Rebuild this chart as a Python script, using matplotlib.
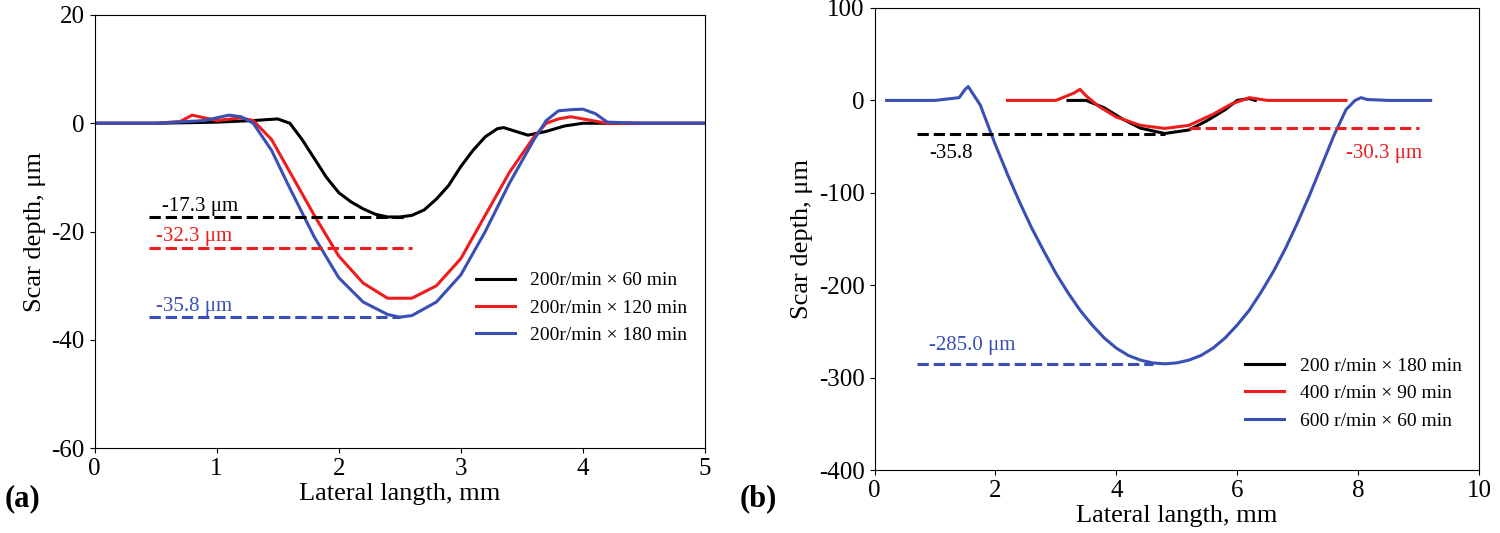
import matplotlib.pyplot as plt

plt.rcParams['font.family'] = 'Liberation Serif'
plt.rcParams['axes.unicode_minus'] = False

# panel (a)
xa_black = [0, 0.5, 1.0, 1.3, 1.5, 1.6, 1.7, 1.8, 1.9, 2.0, 2.1, 2.2, 2.3, 2.4, 2.5, 2.6, 2.7, 2.8, 2.9, 3.0, 3.1, 3.2, 3.3, 3.35, 3.45, 3.55, 3.7, 3.85, 4.0, 4.5, 5.0]
ya_black = [0, 0, 0.2, 0.5, 0.8, 0.0, -3.0, -6.5, -10.0, -12.8, -14.5, -15.8, -16.8, -17.3, -17.3, -17.0, -16.0, -14.0, -11.5, -8.0, -5.0, -2.5, -1.0, -0.8, -1.5, -2.2, -1.5, -0.5, 0, 0, 0]
xa_red = [0, 0.5, 0.7, 0.8, 0.9, 1.0, 1.2, 1.3, 1.45, 1.6, 1.8, 2.0, 2.2, 2.4, 2.6, 2.8, 3.0, 3.2, 3.4, 3.6, 3.7, 3.8, 3.9, 4.0, 4.2, 4.5, 5.0]
ya_red = [0, 0, 0.3, 1.5, 1.0, 0.5, 1.0, 0.5, -3.0, -9.0, -17.0, -24.5, -29.5, -32.3, -32.3, -30.0, -25.0, -17.0, -9.0, -2.5, 0.0, 0.8, 1.2, 0.8, 0.0, 0, 0]
xa_blue = [0, 0.5, 0.9, 1.1, 1.2, 1.3, 1.45, 1.6, 1.8, 2.0, 2.2, 2.4, 2.5, 2.6, 2.8, 3.0, 3.2, 3.4, 3.6, 3.7, 3.8, 3.9, 4.0, 4.1, 4.2, 4.5, 5.0]
ya_blue = [0, 0, 0.5, 1.5, 1.2, 0.0, -5.0, -12.0, -21.0, -28.5, -33.0, -35.3, -35.8, -35.5, -33.0, -28.0, -20.0, -11.0, -3.0, 0.5, 2.3, 2.5, 2.6, 1.8, 0.2, 0, 0]
labels_a = ['200r/min × 60 min', '200r/min × 120 min', '200r/min × 180 min']

# panel (b)
xb_black = [3.2, 3.5, 3.8, 4.1, 4.4, 4.8, 5.2, 5.5, 5.8, 6.0, 6.2, 6.3]
yb_black = [0, 0, -8, -20, -30, -35.8, -32, -22, -10, 0, 2, 0]
xb_red = [2.2, 3.0, 3.3, 3.4, 3.5, 3.7, 4.0, 4.4, 4.8, 5.2, 5.6, 5.9, 6.2, 6.5, 7.0, 7.8]
yb_red = [0, 0, 8, 12, 5, -6, -18, -27, -30.3, -27, -15, -4, 3, 0, 0, 0]
xb_blue = [0.2, 1.0, 1.4, 1.5, 1.55, 1.62, 1.75, 2.0, 2.2, 2.4, 2.6, 2.8, 3.0, 3.2, 3.4, 3.6, 3.8, 4.0, 4.2, 4.4, 4.6, 4.8, 5.0, 5.2, 5.4, 5.6, 5.8, 6.0, 6.2, 6.4, 6.6, 6.8, 7.0, 7.2, 7.4, 7.6, 7.8, 7.95, 8.05, 8.15, 8.5, 9.2]
yb_blue = [0, 0, 3, 12, 15, 8, -5, -48, -80, -110, -138, -163, -187, -208, -227, -243, -257, -268, -276, -281, -284, -285, -284, -281, -276, -268, -257, -243, -227, -207, -185, -160, -132, -102, -70, -38, -10, 0, 3, 1, 0, 0]
labels_b = ['200 r/min × 180 min', '400 r/min × 90 min', '600 r/min × 60 min']

colors = ['black', '#ee1c1c', '#3a4fb5']

fig = plt.figure(figsize=(15, 5.33), dpi=100)
ax1 = fig.add_axes([0.063, 0.159, 0.407, 0.813])
ax2 = fig.add_axes([0.583, 0.118, 0.403, 0.867])

ax1.plot(xa_black, ya_black, color=colors[0], lw=2.2, label=labels_a[0])
ax1.plot(xa_red, ya_red, color=colors[1], lw=2.2, label=labels_a[1])
ax1.plot(xa_blue, ya_blue, color=colors[2], lw=2.2, label=labels_a[2])
ax1.plot([0.45, 2.55], [-17.3, -17.3], '--', color=colors[0], lw=2.2)
ax1.plot([0.45, 2.6], [-23, -23], '--', color=colors[1], lw=2.2)
ax1.plot([0.45, 2.5], [-35.8, -35.8], '--', color=colors[2], lw=2.2)
ax1.text(0.55, -16.2, '-17.3 μm', fontsize=15, color=colors[0])
ax1.text(0.5, -21.8, '-32.3 μm', fontsize=15, color=colors[1])
ax1.text(0.5, -34.6, '-35.8 μm', fontsize=15, color=colors[2])
ax1.set_xlim(0, 5)
ax1.set_ylim(-60, 20)
ax1.set_xticks([0, 1, 2, 3, 4, 5])
ax1.set_yticks([-60, -40, -20, 0, 20])
ax1.set_xlabel('Lateral langth, mm', fontsize=19, labelpad=2)
ax1.set_ylabel('Scar depth, μm', fontsize=19)
ax1.tick_params(labelsize=18, direction='out')
ax1.legend(loc='lower right', fontsize=14, frameon=False, bbox_to_anchor=(1.0, 0.2))
fig.text(0.003, 0.05, '(a)', fontsize=22, fontweight='bold')

ax2.plot(xb_black, yb_black, color=colors[0], lw=2.2, label=labels_b[0])
ax2.plot(xb_red, yb_red, color=colors[1], lw=2.2, label=labels_b[1])
ax2.plot(xb_blue, yb_blue, color=colors[2], lw=2.2, label=labels_b[2])
ax2.plot([0.7, 4.8], [-35.8, -35.8], '--', color=colors[0], lw=2.2)
ax2.plot([5.2, 9.0], [-30.3, -30.3], '--', color=colors[1], lw=2.2)
ax2.plot([0.7, 4.6], [-285, -285], '--', color=colors[2], lw=2.2)
ax2.text(0.9, -62, '-35.8', fontsize=15, color=colors[0])
ax2.text(7.8, -62, '-30.3 μm', fontsize=15, color=colors[1])
ax2.text(0.9, -270, '-285.0 μm', fontsize=15, color=colors[2])
ax2.set_xlim(0, 10)
ax2.set_ylim(-400, 100)
ax2.set_xticks([0, 2, 4, 6, 8, 10])
ax2.set_yticks([-400, -300, -200, -100, 0, 100])
ax2.set_xlabel('Lateral langth, mm', fontsize=19, labelpad=2)
ax2.set_ylabel('Scar depth, μm', fontsize=19)
ax2.tick_params(labelsize=18, direction='out')
ax2.legend(loc='lower right', fontsize=14, frameon=False, bbox_to_anchor=(1.0, 0.05))
fig.text(0.493, 0.05, '(b)', fontsize=22, fontweight='bold')

fig.savefig('out.png')
